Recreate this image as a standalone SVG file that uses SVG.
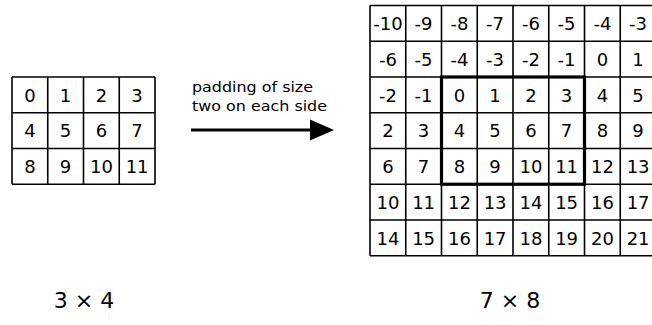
<svg xmlns="http://www.w3.org/2000/svg" width="652" height="325" viewBox="0 0 652 325">
<defs>
<style>
.g{fill:none;stroke:#000;stroke-width:1.6}
.b{fill:none;stroke:#000;stroke-width:3.2}
.n{font-family:"DejaVu Sans","Liberation Sans",sans-serif;font-size:18px;fill:#000;text-anchor:middle}
.l{font-family:"DejaVu Sans","Liberation Sans",sans-serif;font-size:14px;fill:#000}
.t{font-family:"DejaVu Sans","Liberation Sans",sans-serif;font-size:22px;fill:#000;text-anchor:middle}
</style>
</defs>
<rect width="652" height="325" fill="#fff"/>
<g id="grid-3x4">
<path class="g" d="M12 77H155M12 112.75H155M12 148.5H155M12 184.25H155M12 77V184.25M47.75 77V184.25M83.5 77V184.25M119.25 77V184.25M155 77V184.25"/>
<g class="n">
<text x="29.9" y="101.5">0</text><text x="65.6" y="101.5">1</text><text x="101.4" y="101.5">2</text><text x="137.1" y="101.5">3</text>
<text x="29.9" y="137.3">4</text><text x="65.6" y="137.3">5</text><text x="101.4" y="137.3">6</text><text x="137.1" y="137.3">7</text>
<text x="29.9" y="173">8</text><text x="65.6" y="173">9</text><text x="101.4" y="173">10</text><text x="137.1" y="173">11</text>
</g>
</g>
<g id="grid-7x8">
<path class="g" d="M370 5.5H656M370 41.25H656M370 77H656M370 112.75H656M370 148.5H656M370 184.25H656M370 220H656M370 255.75H656M370 5.5V255.75M405.75 5.5V255.75M441.5 5.5V255.75M477.25 5.5V255.75M513 5.5V255.75M548.75 5.5V255.75M584.5 5.5V255.75M620.25 5.5V255.75"/>
<rect id="original-region" class="b" x="441.5" y="77" width="143" height="107.25"/>
<g class="n">
<text x="387.9" y="30">-10</text><text x="423.6" y="30">-9</text><text x="459.4" y="30">-8</text><text x="495.1" y="30">-7</text><text x="530.9" y="30">-6</text><text x="566.6" y="30">-5</text><text x="602.4" y="30">-4</text><text x="638.1" y="30">-3</text>
<text x="387.9" y="65.8">-6</text><text x="423.6" y="65.8">-5</text><text x="459.4" y="65.8">-4</text><text x="495.1" y="65.8">-3</text><text x="530.9" y="65.8">-2</text><text x="566.6" y="65.8">-1</text><text x="602.4" y="65.8">0</text><text x="638.1" y="65.8">1</text>
<text x="387.9" y="101.5">-2</text><text x="423.6" y="101.5">-1</text><text x="459.4" y="101.5">0</text><text x="495.1" y="101.5">1</text><text x="530.9" y="101.5">2</text><text x="566.6" y="101.5">3</text><text x="602.4" y="101.5">4</text><text x="638.1" y="101.5">5</text>
<text x="387.9" y="137.3">2</text><text x="423.6" y="137.3">3</text><text x="459.4" y="137.3">4</text><text x="495.1" y="137.3">5</text><text x="530.9" y="137.3">6</text><text x="566.6" y="137.3">7</text><text x="602.4" y="137.3">8</text><text x="638.1" y="137.3">9</text>
<text x="387.9" y="173">6</text><text x="423.6" y="173">7</text><text x="459.4" y="173">8</text><text x="495.1" y="173">9</text><text x="530.9" y="173">10</text><text x="566.6" y="173">11</text><text x="602.4" y="173">12</text><text x="638.1" y="173">13</text>
<text x="387.9" y="208.8">10</text><text x="423.6" y="208.8">11</text><text x="459.4" y="208.8">12</text><text x="495.1" y="208.8">13</text><text x="530.9" y="208.8">14</text><text x="566.6" y="208.8">15</text><text x="602.4" y="208.8">16</text><text x="638.1" y="208.8">17</text>
<text x="387.9" y="244.5">14</text><text x="423.6" y="244.5">15</text><text x="459.4" y="244.5">16</text><text x="495.1" y="244.5">17</text><text x="530.9" y="244.5">18</text><text x="566.6" y="244.5">19</text><text x="602.4" y="244.5">20</text><text x="638.1" y="244.5">21</text>
</g>
</g>
<g id="connectors">
<path d="M191 130H312" stroke="#000" stroke-width="3" fill="none"/>
<path d="M310 119.5L334 130L310 140.5Z" fill="#000"/>
</g>
<g id="arrow-label">
<text class="l" x="192" y="92" textLength="121" lengthAdjust="spacingAndGlyphs">padding of size</text>
<text class="l" x="192" y="111" textLength="135" lengthAdjust="spacingAndGlyphs">two on each side</text>
</g>
<g id="label-3x4"><text class="t" x="84" y="308">3 × 4</text></g>
<g id="label-7x8"><text class="t" x="510" y="308">7 × 8</text></g>
</svg>
